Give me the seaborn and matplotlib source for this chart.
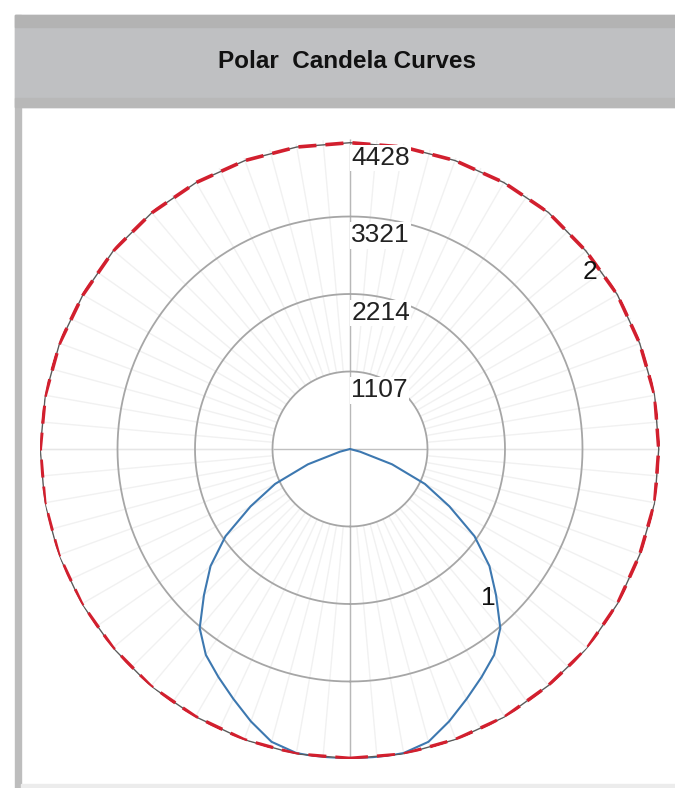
import numpy as np
import matplotlib
matplotlib.use("Agg")
import matplotlib.pyplot as plt
import seaborn as sns
from matplotlib.patches import Rectangle

# candela values, series 1 (half-curve from nadir 0..90 deg, symmetric)
half_angles = [0, 5, 10, 15, 20, 25, 30, 35, 40, 45, 50, 55, 60, 65, 70, 75, 80, 85, 90]
curve1_half = [4430, 4428, 4410, 4330, 4140, 3940, 3760, 3590, 3340, 2950,
               2600, 2170, 1640, 1180, 640, 150, 0, 0, 0]

# series 2, all around (0..360 deg)
angles2 = list(range(0, 361, 10))
curve2 = [4420, 4425, 4415, 4420, 4410, 4425, 4415, 4405, 4420, 4410,
          4420, 4405, 4410, 4400, 4410, 4395, 4385, 4380, 4375, 4380,
          4385, 4395, 4405, 4410, 4405, 4415, 4420, 4425, 4428, 4428,
          4425, 4420, 4425, 4415, 4420, 4425, 4420]

ring_values = [1107, 2214, 3321, 4428]
ring_labels = ["1107", "2214", "3321", "4428"]
rmax = 4428

sns.set_style("white")
plt.rcParams["font.family"] = ["Liberation Sans", "DejaVu Sans"]

fig = plt.figure(figsize=(6.75, 7.88), dpi=100)
W, H = 675, 788

# frame / header
fig.patches.append(Rectangle((15 / W, 0), 6 / W, 1 - 15 / H, transform=fig.transFigure,
                             color="#bdbdbd", zorder=0))
fig.patches.append(Rectangle((15 / W, 1 - 107 / H), 1, 92 / H, transform=fig.transFigure,
                             color="#bfc0c2", zorder=0))
fig.patches.append(Rectangle((15 / W, 1 - 27 / H), 1, 12 / H, transform=fig.transFigure,
                             color="#b3b3b3", zorder=0))
fig.patches.append(Rectangle((15 / W, 1 - 107 / H), 1, 9 / H, transform=fig.transFigure,
                             color="#b8b8b8", zorder=0))
fig.patches.append(Rectangle((21 / W, 0), 1, 4 / H, transform=fig.transFigure,
                             color="#ececec", zorder=0))
fig.text(347 / W, 1 - 61 / H, "Polar  Candela Curves", ha="center", va="center",
         fontsize=17.5, fontweight="bold", color="#111111",
         family=["Liberation Sans Narrow", "Liberation Sans", "DejaVu Sans"])

# polar axes: centre (350, 449), radius 310 px
cx, cy, rad = 350, 449, 310
ax = fig.add_axes([(cx - rad) / W, (H - cy - rad) / H, 2 * rad / W, 2 * rad / H],
                  projection="polar")
ax.set_theta_zero_location("S")
ax.set_theta_direction(1)
ax.set_ylim(0, rmax)
ax.grid(False)
ax.set_xticks([])
ax.set_yticks([])
ax.spines["polar"].set_visible(False)
ax.patch.set_alpha(0)

# spokes and rings
spokes = np.deg2rad(np.arange(0, 360, 5))
ax.vlines(spokes, ring_values[0], rmax, color="#f1f1f1", lw=1, zorder=1)
ax.vlines(np.deg2rad([0, 180]), 0, rmax, color="#b8b8b8", lw=1, zorder=2)
ax.vlines(np.deg2rad([90, 270]), 0, ring_values[0], color="#c0c0c0", lw=1, zorder=2)
ax.vlines(np.deg2rad([90, 270]), ring_values[0], rmax, color="#e6e6e6", lw=1, zorder=2)
ring_theta = np.linspace(0, 2 * np.pi, 361)
for v in ring_values[:-1]:
    ax.plot(ring_theta, np.full_like(ring_theta, v), color="#a6a6a6", lw=1.3, zorder=2)

# curve 1 (blue)
a1 = np.array([-a for a in half_angles[::-1]] + half_angles[1:])
r1 = np.array(curve1_half[::-1] + curve1_half[1:])
sns.lineplot(x=np.deg2rad(a1), y=r1, ax=ax, sort=False, estimator=None,
             color="#3d78b0", lw=1.5, zorder=5)

# curve 2 (dark line with red dashes)
t2 = np.deg2rad(angles2)
sns.lineplot(x=t2, y=curve2, ax=ax, sort=False, estimator=None,
             color="#5a5a5a", lw=1.0, zorder=5)
sns.lineplot(x=t2, y=curve2, ax=ax, sort=False, estimator=None,
             color="#d21f2e", lw=2.6, linestyle=(0, (5, 2.5)), zorder=6)
ax.set_xlabel("")
ax.set_ylabel("")

# ring labels
for v, lab in zip(ring_values, ring_labels):
    ax.annotate(lab, xy=(np.pi, v), xytext=(1, -5), textcoords="offset points",
                ha="left", va="top", fontsize=19, color="#222222", zorder=8,
                bbox=dict(boxstyle="square,pad=0.05", fc="white", ec="none"))

# series labels
ax.text(np.deg2rad(42.8), 2900, "1", ha="center", va="center", fontsize=19, color="#111111", zorder=9)
ax.text(np.deg2rad(126.4), 4258, "2", ha="center", va="center", fontsize=19, color="#111111", zorder=9)

fig.savefig("out.png", dpi=100)
